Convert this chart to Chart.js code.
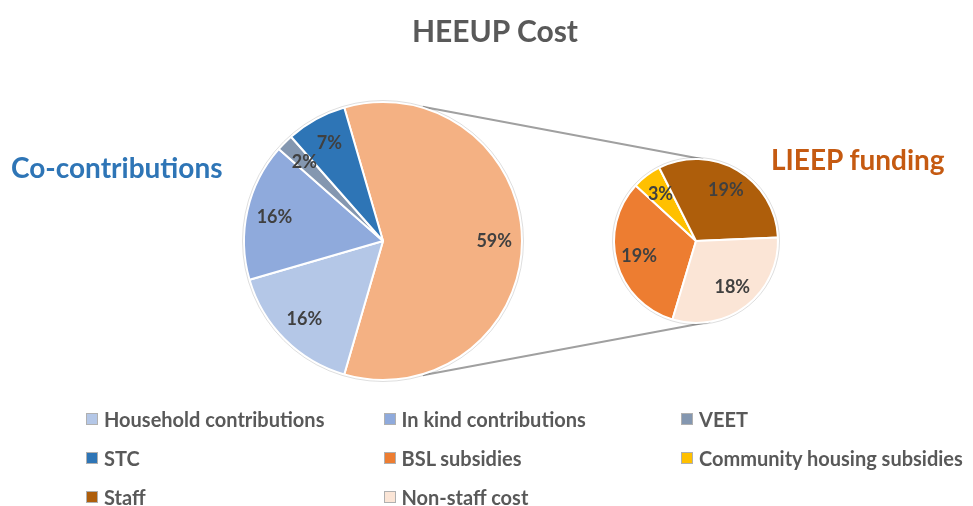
<!DOCTYPE html>
<html lang="en">
  <head>
    <meta charset="UTF-8" />
    <title>HEEUP Cost</title>
    <script src="https://cdn.jsdelivr.net/npm/chart.js@4"></script>
    <style>
      body { margin: 0; background: #fff; font-family: Lato, "Open Sans", sans-serif; }
      #wrap { position: relative; width: 973px; height: 506px; overflow: hidden; }
      canvas { position: absolute; left: 0; top: 0; }
      .txt { position: absolute; font-weight: bold; white-space: nowrap; line-height: 1; }
      #title { left: 0; width: 990px; text-align: center; top: 15px; font-size: 30px; color: #595959; }
      #coTitle { left: 11px; top: 153px; font-size: 28px; color: #2e75b6; }
      #lieepTitle { left: 771px; top: 145px; font-size: 28px; color: #c55a11; }
      #legend { position: absolute; left: 86px; top: 408px; }
      .item { position: absolute; display: flex; align-items: center; font-size: 20px; color: #595959; font-weight: bold; white-space: nowrap; height: 22px; }
      .item span { display: inline-block; width: 10px; height: 10px; border: 1px solid #b0b0b0; margin-right: 6px; }
    </style>
  </head>
  <body>
    <div id="wrap">
      <canvas id="mainChart" width="973" height="506"></canvas>
      <canvas id="subChart" width="973" height="506"></canvas>
      <div class="txt" id="title">HEEUP Cost</div>
      <div class="txt" id="coTitle">Co-contributions</div>
      <div class="txt" id="lieepTitle">LIEEP funding</div>
      <div id="legend"></div>
    </div>

    <script>
      // co-contributions (main pie)
      const coLabels = ["Household contributions", "In kind contributions", "VEET", "STC"];
      const coValues = [16, 16, 2, 7];
      const coColors = ["#b4c7e7", "#8faadc", "#8497b0", "#2e75b6"];

      // LIEEP funding (second pie)
      const lieepLabels = ["BSL subsidies", "Community housing subsidies", "Staff", "Non-staff cost"];
      const lieepValues = [19.0, 3.4, 18.7, 17.9];
      const lieepColors = ["#ed7d31", "#ffc000", "#ae5e0b", "#fbe5d6"];

      const lieepTotal = lieepValues.reduce((a, b) => a + b, 0);
      const mainValues = [lieepTotal].concat(coValues);
      const mainColors = ["#f4b183"].concat(coColors);
      const mainTotal = mainValues.reduce((a, b) => a + b, 0);

      // percent labels placed along the mid angle of each slice
      const pctLabels = {
        id: "pctLabels",
        afterDatasetsDraw(chart, args, opts) {
          const ctx = chart.ctx;
          const meta = chart.getDatasetMeta(0);
          const values = chart.data.datasets[0].data;
          ctx.save();
          ctx.font = "bold 18px Lato, 'Open Sans', sans-serif";
          ctx.fillStyle = "#404040";
          ctx.textAlign = "center";
          ctx.textBaseline = "middle";
          meta.data.forEach((arc, i) => {
            const mid = (arc.startAngle + arc.endAngle) / 2;
            const r = arc.outerRadius * opts.pos;
            ctx.fillText(Math.round(values[i]) + "%", arc.x + Math.cos(mid) * r, arc.y + Math.sin(mid) * r);
          });
          // faint outline round the pie
          const a = meta.data[0];
          ctx.beginPath();
          ctx.arc(a.x, a.y, a.outerRadius + 1.5, 0, Math.PI * 2);
          ctx.strokeStyle = "rgba(0,0,0,0.13)";
          ctx.lineWidth = 1;
          ctx.stroke();
          ctx.restore();
        },
      };

      var subChart = new Chart(document.getElementById("subChart"), {
        type: "pie",
        data: {
          labels: lieepLabels,
          datasets: [{
            data: lieepValues,
            backgroundColor: lieepColors,
            borderColor: "#ffffff",
            borderWidth: 2,
          }],
        },
        options: {
          responsive: false,
          animation: false,
          rotation: 196.7,
          layout: { padding: { left: 613, right: 194, top: 158, bottom: 182 } },
          plugins: { legend: { display: false }, tooltip: { enabled: false }, pctLabels: { pos: 0.72 } },
        },
        plugins: [pctLabels],
      });

      // lines joining the LIEEP slice to the second pie
      const connectors = {
        id: "connectors",
        beforeDatasetsDraw(chart) {
          const ctx = chart.ctx;
          const m = chart.getDatasetMeta(0).data[0];
          const s = subChart.getDatasetMeta(0).data[0];
          const pt = (arc, deg, extra) => {
            const a = (deg - 90) * Math.PI / 180;
            return [arc.x + Math.cos(a) * (arc.outerRadius + extra), arc.y + Math.sin(a) * (arc.outerRadius + extra)];
          };
          const pairs = [[pt(m, 16.5, 1), pt(s, 5, 0)], [pt(m, 163.5, 1), pt(s, 170, 0)]];
          ctx.save();
          ctx.strokeStyle = "#a0a0a0";
          ctx.lineWidth = 2;
          pairs.forEach(([p, q]) => {
            ctx.beginPath();
            ctx.moveTo(p[0], p[1]);
            ctx.lineTo(q[0], q[1]);
            ctx.stroke();
          });
          ctx.restore();
        },
      };

      var mainChart = new Chart(document.getElementById("mainChart"), {
        type: "pie",
        data: {
          labels: ["LIEEP funding"].concat(coLabels),
          datasets: [{
            data: mainValues,
            backgroundColor: mainColors,
            borderColor: "#ffffff",
            borderWidth: 2,
          }],
        },
        options: {
          responsive: false,
          animation: false,
          rotation: 90 - (lieepTotal / mainTotal) * 180,
          layout: { padding: { left: 243, right: 450, top: 101, bottom: 125 } },
          plugins: { legend: { display: false }, tooltip: { enabled: false }, pctLabels: { pos: 0.8 } },
        },
        plugins: [connectors, pctLabels],
      });

      // legend, three columns
      const legendLabels = coLabels.concat(lieepLabels);
      const legendColors = coColors.concat(lieepColors);
      const legend = document.getElementById("legend");
      legendLabels.forEach((label, i) => {
        const el = document.createElement("div");
        el.className = "item";
        el.style.left = (i % 3) * 297.5 + "px";
        el.style.top = Math.floor(i / 3) * 39 + "px";
        el.innerHTML = '<span style="background:' + legendColors[i] + '"></span>' + label;
        legend.appendChild(el);
      });
    </script>
  </body>
</html>
